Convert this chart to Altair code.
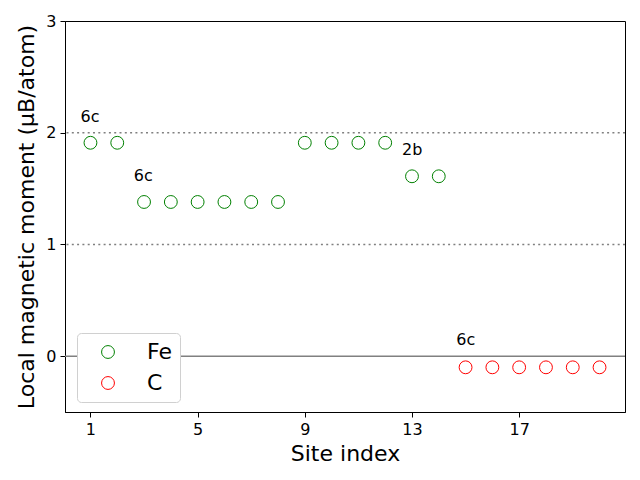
import altair as alt
import pandas as pd

fe_sites = list(range(1, 15))
fe_moments = [1.91, 1.91, 1.38, 1.38, 1.38, 1.38, 1.38, 1.38, 1.91, 1.91, 1.91, 1.91, 1.61, 1.61]
c_sites = list(range(15, 21))
c_moments = [-0.10, -0.10, -0.10, -0.10, -0.10, -0.10]

label_text = ["6c", "6c", "2b", "6c"]
label_x = [0.63, 2.62, 12.63, 14.65]
label_y = [2.10, 1.57, 1.80, 0.10]

x_ticks = [1, 5, 9, 13, 17]
y_ticks = [0, 1, 2, 3]

points = pd.DataFrame({
    "site": fe_sites + c_sites,
    "moment": fe_moments + c_moments,
    "element": ["Fe"] * len(fe_sites) + ["C"] * len(c_sites),
})
labels = pd.DataFrame({"x": label_x, "y": label_y, "t": label_text})

xs = alt.Scale(domain=[0.05, 20.95], nice=False, zero=False)
ys = alt.Scale(domain=[-0.5, 3], nice=False, zero=False)

common_axis = dict(grid=False, labelFontSize=16, titleFontSize=22, tickSize=5, labelPadding=4,
                   domainColor="black", tickColor="black", labelColor="black", titleColor="black",
                   labelFont="DejaVu Sans", titleFont="DejaVu Sans", titleFontWeight="normal")

pts = alt.Chart(points).mark_point(shape="circle", filled=False, size=165, strokeWidth=1, opacity=1).encode(
    x=alt.X("site:Q", scale=xs, title="Site index",
            axis=alt.Axis(values=x_ticks, format="d", titlePadding=6, **common_axis)),
    y=alt.Y("moment:Q", scale=ys, title="Local magnetic moment (μB/atom)",
            axis=alt.Axis(values=y_ticks, format="d", titlePadding=7, **common_axis)),
    color=alt.Color("element:N", scale=alt.Scale(domain=["Fe", "C"], range=["green", "red"]),
                    legend=alt.Legend(title=None, orient="none", legendX=12, legendY=312,
                                      labelFontSize=22, labelFont="DejaVu Sans", symbolSize=165,
                                      symbolType="circle", symbolFillColor="transparent",
                                      symbolStrokeWidth=1, labelOffset=28, rowPadding=9,
                                      padding=8, strokeColor="#d0d0d0", fillColor="white",
                                      cornerRadius=4, labelColor="black", symbolOffset=12,
                                      labelLimit=100)),
)

dotted = pd.DataFrame({"y": [1, 2]})
dots = alt.Chart(dotted).mark_rule(color="gray", strokeDash=[2, 3.3], strokeWidth=1.5).encode(
    y=alt.Y("y:Q", scale=ys))
zero = alt.Chart(pd.DataFrame({"y": [0]})).mark_rule(color="gray", strokeWidth=1.5).encode(
    y=alt.Y("y:Q", scale=ys))

txt = alt.Chart(labels).mark_text(align="left", baseline="alphabetic", fontSize=16, font="DejaVu Sans",
                                  color="black").encode(
    x=alt.X("x:Q", scale=xs), y=alt.Y("y:Q", scale=ys), text="t:N")

chart = alt.layer(zero, dots, pts, txt).properties(
    width=560, height=391,
    autosize=alt.AutoSizeParams(type="none"),
    padding={"left": 65, "top": 21, "right": 15, "bottom": 68},
).configure_view(stroke="black", strokeWidth=1)

chart.save("out.html", embed_options={"renderer": "svg", "actions": False})
